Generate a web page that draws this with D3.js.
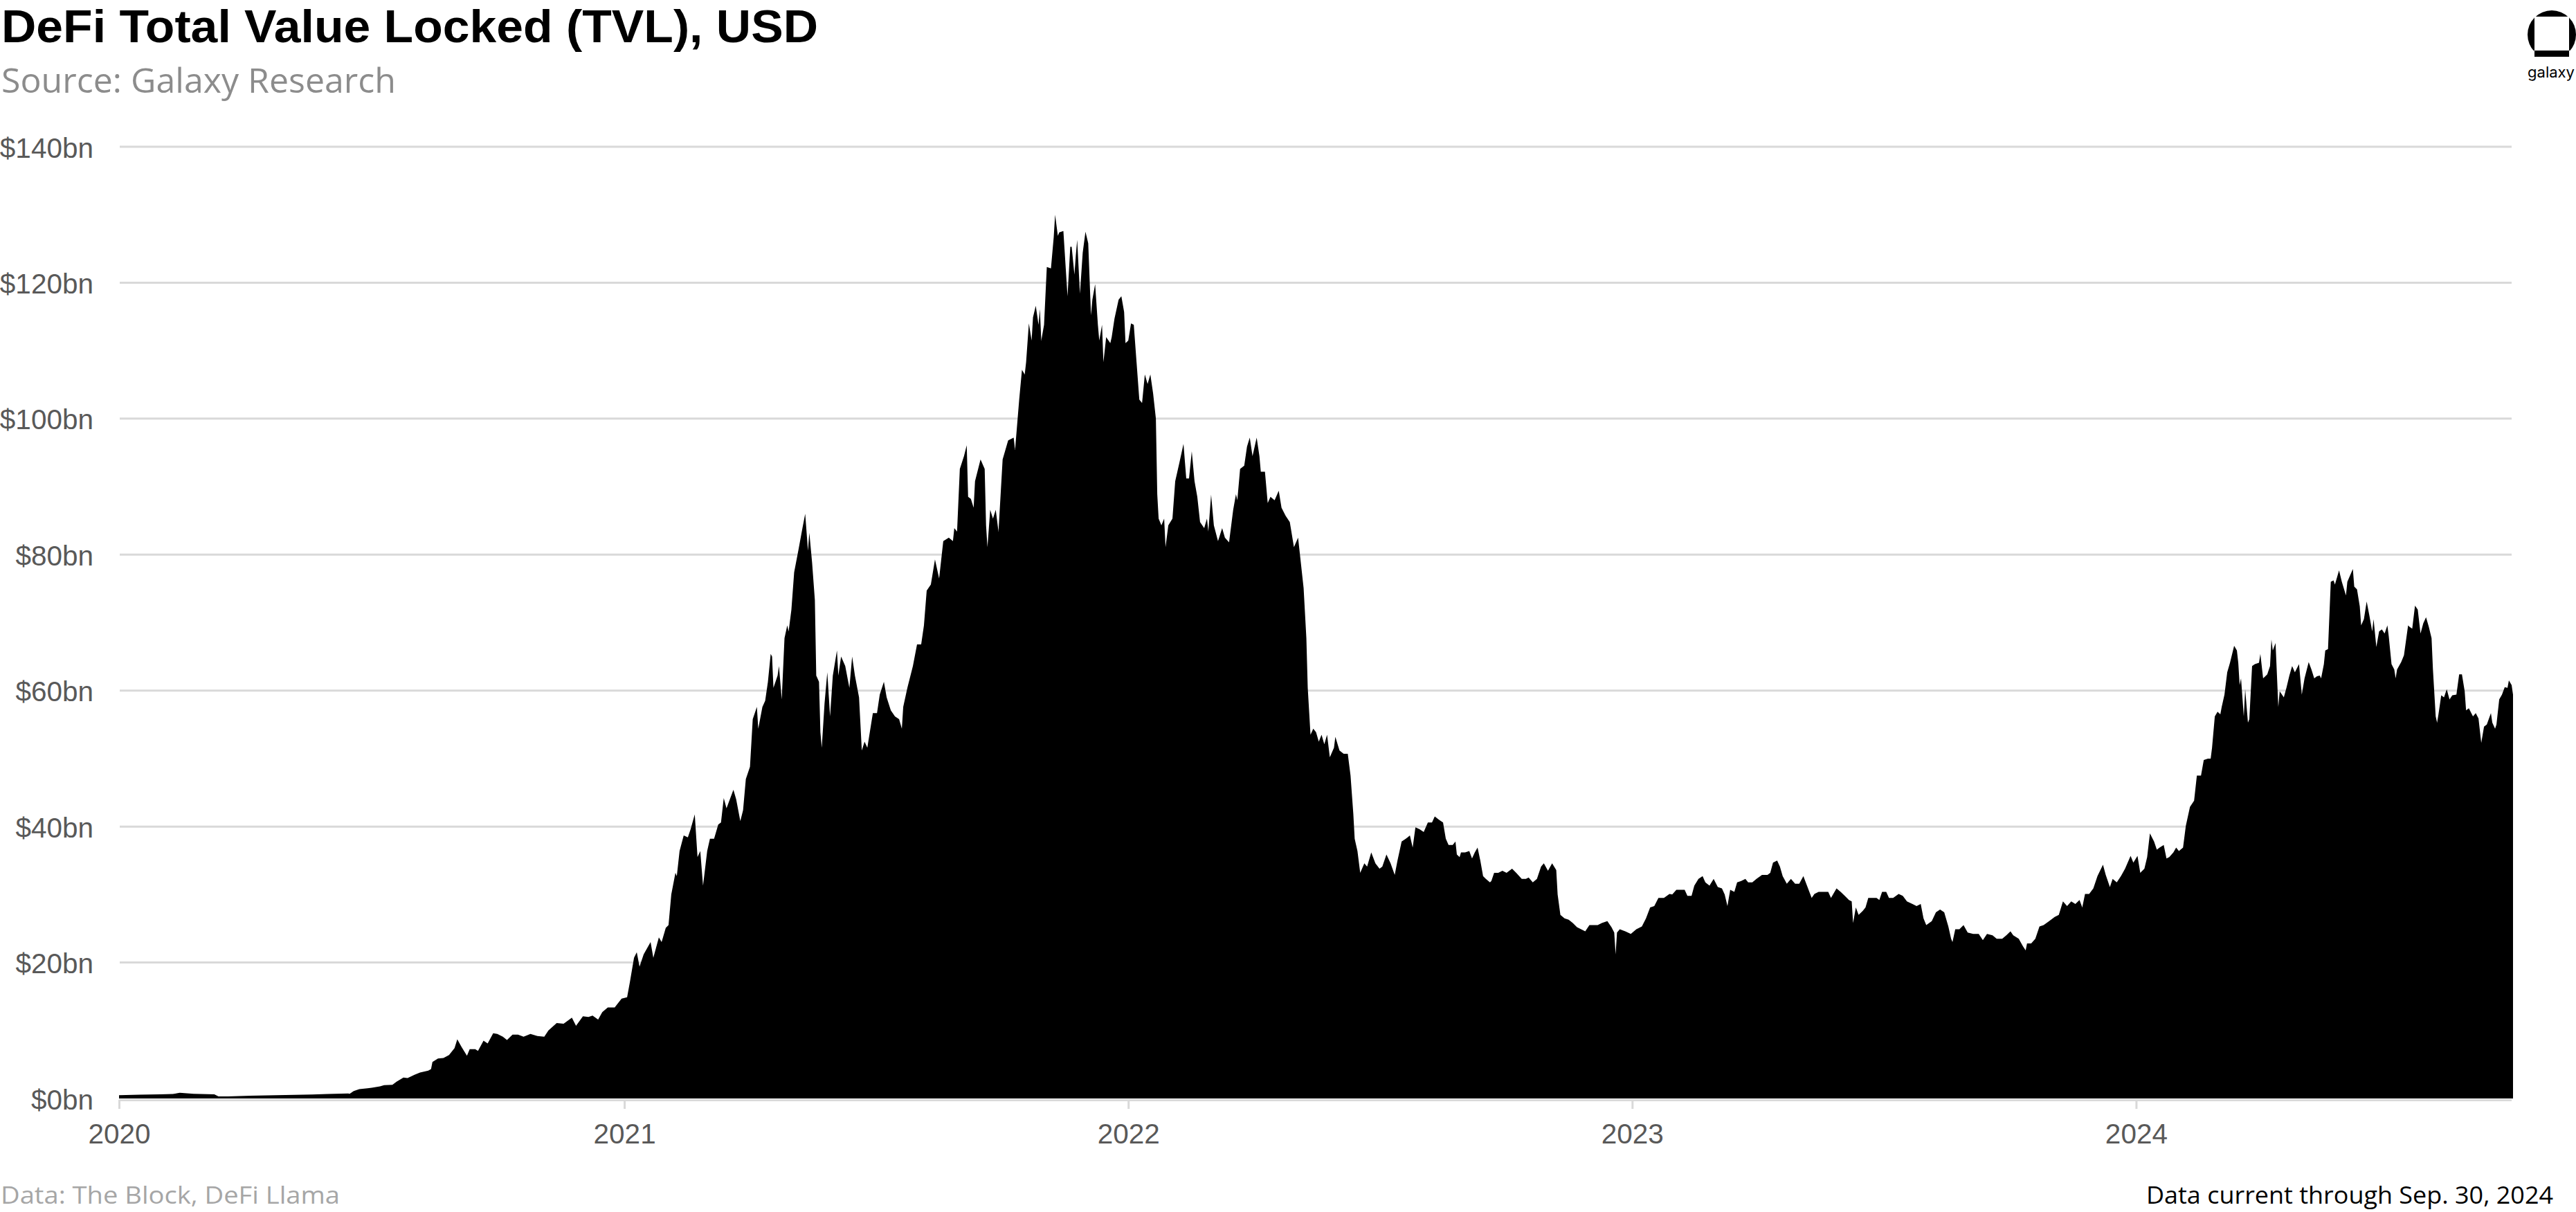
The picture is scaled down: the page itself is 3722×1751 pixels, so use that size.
<!DOCTYPE html>
<html>
<head>
<meta charset="utf-8">
<script src="https://cdn.jsdelivr.net/npm/d3@7"></script>
<style>
  html, body { margin: 0; padding: 0; background: #ffffff; }
  svg { display: block; }
</style>
</head>
<body>
<svg id="chart" width="3722" height="1751"></svg>
<script>
// ---------------- DATA ($bn) ----------------
const yTicks = [0, 20, 40, 60, 80, 100, 120, 140];
const xTickYears = ["2020", "2021", "2022", "2023", "2024"];
const periodStart = "2020-01-01";
const periodEnd = "2024-09-30";

const tvl2020 = [["01-01",0.48],["01-16",0.55],["01-31",0.6],["02-09",0.65],["02-14",0.85],["02-24",0.7],["03-10",0.6],["03-13",0.3],["03-20",0.3],["04-05",0.4],["04-24",0.48],["05-20",0.58],["05-31",0.65],["06-15",0.75],["06-16",0.7],["06-19",1.1],["06-23",1.37],["06-29",1.5],["07-02",1.57],["07-08",1.78],["07-11",1.95],["07-17",2.0],["07-20",2.46],["07-25",3.08],["07-28",3.0],["08-02",3.49],["08-06",3.83],["08-12",4.1],["08-14",4.34],["08-15",5.37],["08-19",5.88],["08-23",5.95],["08-27",6.4],["08-31",7.4],["09-02",8.7],["09-05",7.6],["09-09",6.3],["09-11",7.25],["09-15",7.25],["09-17",7.0],["09-21",8.5],["09-24",8.1],["09-28",9.6],["10-01",9.5],["10-05",9.1],["10-08",8.6],["10-12",9.4],["10-16",9.4],["10-20",9.1],["10-25",9.5],["10-30",9.2],["11-04",9.1],["11-07",10.0],["11-13",11.1],["11-18",11.0],["11-24",11.9],["11-27",10.7],["12-02",12.1],["12-06",12.0],["12-09",12.2],["12-13",11.6],["12-16",12.7],["12-20",13.4],["12-21",13.4],["12-25",13.4],["12-30",14.7]];

const tvl2021 = [["01-03",14.9],["01-05",17.1],["01-08",20.7],["01-10",21.5],["01-12",19.4],["01-15",21.2],["01-20",23.0],["01-22",20.7],["01-26",23.7],["01-28",23.0],["01-31",25.1],["02-02",25.5],["02-04",30.0],["02-07",33.2],["02-08",32.7],["02-10",36.4],["02-13",38.7],["02-16",38.4],["02-18",39.6],["02-21",41.8],["02-23",35.5],["02-25",36.4],["02-27",31.3],["03-02",36.4],["03-04",38.2],["03-07",38.2],["03-10",40.3],["03-12",40.6],["03-14",44.2],["03-16",42.7],["03-21",45.4],["03-23",44.0],["03-26",40.8],["03-28",42.4],["03-30",47.0],["04-02",48.8],["04-04",55.8],["04-07",57.6],["04-08",54.4],["04-11",57.6],["04-13",58.5],["04-15",61.3],["04-17",65.4],["04-18",65.0],["04-19",60.4],["04-22",62.2],["04-23",63.6],["04-25",58.7],["04-27",67.7],["04-29",69.6],["04-30",68.7],["05-02",71.9],["05-04",77.4],["05-07",80.6],["05-10",83.9],["05-12",86.0],["05-14",80.6],["05-15",83.2],["05-17",78.8],["05-19",73.3],["05-20",62.2],["05-22",61.3],["05-23",53.9],["05-24",51.6],["05-26",58.1],["05-28",62.7],["05-30",56.2],["06-01",62.2],["06-04",65.9],["06-05",62.2],["06-07",65.0],["06-10",63.6],["06-13",60.4],["06-15",65.0],["06-17",62.2],["06-20",59.0],["06-22",51.2],["06-24",52.5],["06-26",51.6],["06-30",56.7],["07-03",56.7],["07-05",59.4],["07-08",61.3],["07-10",59.0],["07-13",57.1],["07-16",56.2],["07-19",55.8],["07-21",54.4],["07-22",57.6],["07-25",60.4],["07-29",63.6],["08-01",66.8],["08-04",66.8],["08-06",69.6],["08-08",74.7],["08-11",75.6],["08-14",79.3],["08-17",76.5],["08-20",82.0],["08-24",82.5],["08-27",82.0],["08-28",83.9],["08-30",83.4],["09-01",92.6],["09-04",94.5],["09-06",96.1],["09-07",88.5],["09-09",88.2],["09-11",86.9],["09-12",90.8],["09-16",94.0],["09-19",92.6],["09-20",84.3],["09-21",81.1],["09-23",86.6],["09-25",85.3],["09-27",86.6],["09-29",83.4],["10-02",94.0],["10-06",96.8],["10-10",97.2],["10-11",95.4],["10-14",102.8],["10-16",107.2],["10-18",106.5],["10-19",108.3],["10-21",114.0],["10-23",111.5],["10-24",114.9],["10-26",116.6],["10-28",113.8],["10-29",116.1],["10-30",111.5],["11-01",113.8],["11-03",122.3],["11-06",122.1],["11-08",126.7],["11-09",130.0],["11-11",126.9],["11-12",127.4],["11-15",127.6],["11-17",121.2],["11-18",118.0],["11-20",125.3],["11-21",125.3],["11-23",121.2],["11-24",124.0],["11-25",126.3],["11-27",118.4],["11-29",124.4],["12-01",127.5],["12-03",125.8],["12-05",115.2],["12-06",117.5],["12-08",119.8],["12-10",113.8],["12-11",111.5],["12-13",113.8],["12-14",108.3],["12-16",112.0],["12-19",111.1],["12-20",112.0],["12-22",114.7],["12-25",117.5],["12-27",118.0],["12-29",115.7],["12-30",111.1]];

const tvl2022 = [["01-01",111.5],["01-03",114.0],["01-05",113.8],["01-07",108.3],["01-09",102.8],["01-11",102.3],["01-13",106.5],["01-15",105.1],["01-17",106.5],["01-19",103.7],["01-21",100.0],["01-22",88.9],["01-23",85.3],["01-25",84.3],["01-27",85.3],["01-28",81.1],["01-30",84.3],["02-02",85.3],["02-04",90.8],["02-07",93.5],["02-10",96.3],["02-12",91.2],["02-14",91.2],["02-16",95.2],["02-18",90.8],["02-20",88.5],["02-22",84.8],["02-25",83.9],["02-27",85.3],["02-28",83.4],["03-02",88.8],["03-04",84.3],["03-07",82.0],["03-10",83.9],["03-12",82.5],["03-15",81.8],["03-18",86.6],["03-20",88.9],["03-21",88.0],["03-23",92.6],["03-26",93.1],["03-28",95.9],["03-30",97.2],["04-01",94.5],["04-04",97.2],["04-06",94.5],["04-07",92.2],["04-10",92.2],["04-12",87.6],["04-14",88.5],["04-17",88.0],["04-20",89.4],["04-22",86.9],["04-25",85.7],["04-28",84.8],["05-01",81.1],["05-04",82.5],["05-06",78.8],["05-08",75.1],["05-10",67.7],["05-11",60.4],["05-13",53.5],["05-15",54.4],["05-17",53.9],["05-19",52.5],["05-21",53.5],["05-23",52.1],["05-25",53.5],["05-27",50.2],["05-30",51.6],["05-31",53.2],["06-03",51.2],["06-06",50.7],["06-09",50.7],["06-11",47.5],["06-13",41.9],["06-14",38.2],["06-16",36.4],["06-18",33.2],["06-21",34.6],["06-23",34.1],["06-26",36.2],["06-29",34.6],["07-02",33.8],["07-04",34.1],["07-07",35.9],["07-10",34.6],["07-13",32.9],["07-15",35.0],["07-18",37.8],["07-21",38.2],["07-24",38.7],["07-26",36.9],["07-28",39.9],["07-31",39.6],["08-03",39.2],["08-06",40.6],["08-09",40.6],["08-11",41.5],["08-14",41.0],["08-17",40.6],["08-19",38.2],["08-21",37.3],["08-24",37.3],["08-26",37.8],["08-27",35.9],["08-29",35.5],["08-30",36.2],["09-02",36.2],["09-05",36.4],["09-07",35.3],["09-09",36.2],["09-11",36.9],["09-13",35.0],["09-15",32.7],["09-17",32.3],["09-20",31.8],["09-21",32.0],["09-23",33.2],["09-26",33.2],["09-29",33.5],["10-02",33.2],["10-06",33.8],["10-09",33.2],["10-13",32.3],["10-16",32.3],["10-18",32.5],["10-21",31.8],["10-24",32.3],["10-27",34.1],["10-29",34.6],["11-01",33.5],["11-04",34.6],["11-07",33.6],["11-08",30.0],["11-10",27.0],["11-13",26.5],["11-16",26.3],["11-19",25.8],["11-22",25.2],["11-25",24.9],["11-28",24.6],["12-01",25.5],["12-04",25.5],["12-07",25.5],["12-10",25.8],["12-14",26.1],["12-17",25.2],["12-19",24.4],["12-20",21.2],["12-21",24.4],["12-23",24.9],["12-27",24.6],["12-31",24.2]];

const tvl2023 = [["01-04",24.9],["01-08",25.3],["01-11",26.5],["01-14",28.1],["01-17",28.3],["01-20",29.5],["01-24",29.5],["01-28",30.1],["01-30",30.0],["02-02",30.7],["02-05",30.7],["02-08",30.7],["02-10",29.8],["02-13",29.8],["02-15",31.3],["02-18",32.3],["02-21",32.7],["02-23",31.8],["02-26",31.3],["03-01",32.3],["03-04",31.1],["03-07",30.9],["03-09",30.0],["03-11",28.3],["03-13",30.7],["03-16",30.4],["03-18",31.8],["03-21",32.0],["03-24",32.3],["03-26",31.8],["03-29",31.8],["04-01",32.3],["04-05",32.9],["04-09",32.9],["04-11",33.2],["04-13",34.7],["04-16",35.0],["04-18",34.1],["04-20",32.7],["04-23",31.6],["04-26",32.3],["04-29",31.6],["05-02",31.6],["05-05",32.7],["05-08",31.1],["05-11",29.5],["05-13",30.1],["05-16",30.4],["05-19",30.4],["05-23",30.4],["05-25",29.5],["05-29",30.9],["06-01",30.4],["06-04",29.8],["06-07",29.2],["06-09",29.0],["06-10",25.8],["06-12",28.1],["06-14",27.0],["06-17",27.6],["06-19",28.1],["06-21",29.5],["06-24",29.5],["06-27",29.5],["06-29",29.2],["07-01",30.4],["07-04",30.4],["07-06",29.5],["07-09",29.5],["07-13",30.1],["07-16",29.8],["07-19",29.0],["07-23",28.6],["07-26",28.3],["07-29",28.6],["07-31",26.5],["08-02",25.5],["08-06",26.1],["08-09",27.4],["08-12",27.8],["08-15",27.4],["08-18",25.3],["08-20",23.5],["08-21",23.0],["08-23",24.9],["08-26",24.9],["08-29",25.5],["09-01",24.4],["09-05",24.2],["09-09",24.2],["09-12",23.3],["09-15",24.2],["09-19",24.0],["09-22",23.5],["09-26",23.5],["09-29",24.0],["10-02",24.6],["10-04",24.0],["10-08",23.5],["10-11",22.4],["10-13",21.8],["10-14",22.8],["10-17",22.8],["10-20",23.5],["10-23",25.3],["10-26",25.5],["10-30",26.1],["11-03",26.7],["11-06",27.0],["11-09",29.0],["11-12",28.3],["11-15",29.0],["11-18",28.6],["11-21",29.2],["11-23",28.1],["11-25",30.1],["11-28",30.1],["12-01",30.9],["12-04",32.7],["12-08",34.4],["12-10",32.9],["12-13",31.1],["12-15",32.3],["12-18",31.8],["12-21",32.7],["12-24",33.8],["12-28",35.7],["12-30",34.7]];

const tvl2024 = [["01-02",35.7],["01-04",33.2],["01-07",33.8],["01-09",35.5],["01-11",39.0],["01-14",37.8],["01-16",36.6],["01-18",36.9],["01-21",37.3],["01-23",35.3],["01-25",35.5],["01-28",36.2],["01-30",36.9],["02-01",36.4],["02-04",36.9],["02-06",40.1],["02-09",42.9],["02-12",43.8],["02-14",47.5],["02-17",47.5],["02-19",49.8],["02-22",50.0],["02-24",50.0],["02-25",51.6],["02-27",56.2],["02-29",56.9],["03-02",56.5],["03-03",57.6],["03-05",59.4],["03-07",62.7],["03-09",64.1],["03-12",66.6],["03-14",65.9],["03-15",64.1],["03-16",60.8],["03-17",61.8],["03-19",56.2],["03-20",60.2],["03-22",55.3],["03-23",55.8],["03-25",63.6],["03-27",63.9],["03-30",64.1],["03-31",65.4],["04-02",61.8],["04-05",62.4],["04-07",63.6],["04-08",67.5],["04-09",65.9],["04-11",67.0],["04-13",57.6],["04-14",59.9],["04-17",59.0],["04-19",60.5],["04-21",62.2],["04-23",63.6],["04-25",62.7],["04-28",63.9],["04-30",59.4],["05-02",61.8],["05-05",64.2],["05-07",63.1],["05-09",61.8],["05-11",62.1],["05-13",62.2],["05-14",61.8],["05-16",63.9],["05-17",65.9],["05-19",66.1],["05-21",76.0],["05-23",76.2],["05-24",75.6],["05-27",77.7],["05-29",76.0],["06-01",74.0],["06-02",76.0],["06-06",77.9],["06-07",75.3],["06-09",74.9],["06-11",72.4],["06-12",69.6],["06-14",70.5],["06-16",73.1],["06-18",71.0],["06-20",68.7],["06-21",70.5],["06-23",66.4],["06-25",68.7],["06-27",69.0],["06-29",68.4],["07-01",69.6],["07-02",68.0],["07-04",63.9],["07-06",63.1],["07-07",61.8],["07-08",63.1],["07-11",64.2],["07-13",65.2],["07-16",69.6],["07-17",69.4],["07-19",69.1],["07-21",72.5],["07-23",71.9],["07-25",68.4],["07-27",69.9],["07-29",70.8],["07-31",69.4],["08-02",67.7],["08-03",63.1],["08-05",56.2],["08-06",55.3],["08-07",56.5],["08-09",59.3],["08-11",59.0],["08-13",60.2],["08-15",58.7],["08-17",59.3],["08-20",59.4],["08-22",62.4],["08-24",62.4],["08-26",59.9],["08-27",57.1],["08-29",57.4],["09-01",56.2],["09-03",56.7],["09-05",55.9],["09-07",52.3],["09-09",54.7],["09-11",55.0],["09-14",56.7],["09-15",55.3],["09-17",54.4],["09-18",55.0],["09-20",58.7],["09-22",59.4],["09-24",60.5],["09-26",60.4],["09-27",61.5],["09-29",60.8],["09-30",59.4]];

// ---------------- BUILD ----------------
const parse = d3.utcParse("%Y-%m-%d");
const byYear = [["2020", tvl2020], ["2021", tvl2021], ["2022", tvl2022], ["2023", tvl2023], ["2024", tvl2024]];
const series = [];
byYear.forEach(([yr, arr]) => arr.forEach(([md, v]) => series.push({ date: parse(yr + "-" + md), value: v })));

const svg = d3.select("#chart");
svg.append("rect").attr("width", 3722).attr("height", 1751).attr("fill", "#ffffff");

const x = d3.scaleUtc().domain([parse(periodStart), parse(periodEnd)]).range([172, 3631]);
const y = d3.scaleLinear().domain([0, 140]).range([1587, 212]);

// gridlines
svg.append("g").selectAll("line").data(yTicks.filter(d => d > 0)).join("line")
  .attr("x1", 173).attr("x2", 3629)
  .attr("y1", d => y(d)).attr("y2", d => y(d))
  .attr("stroke", "#d9d9d9").attr("stroke-width", 3);

// area
const area = d3.area().x(d => x(d.date)).y0(y(0)).y1(d => y(d.value)).curve(d3.curveLinear);
svg.append("path").datum(series).attr("d", area).attr("fill", "#000000");

// baseline axis line
svg.append("line").attr("x1", 172).attr("x2", 3629).attr("y1", 1589.5).attr("y2", 1589.5)
  .attr("stroke", "#d9d9d9").attr("stroke-width", 3);

// x axis
const xAxis = d3.axisBottom(x)
  .tickValues(xTickYears.map(s => parse(s + "-01-01")))
  .tickFormat(d3.utcFormat("%Y"))
  .tickSize(13).tickSizeOuter(0).tickPadding(21);
const gx = svg.append("g").attr("transform", "translate(0,1589)").call(xAxis);
gx.select(".domain").remove();
gx.selectAll(".tick line").attr("stroke", "#d9d9d9").attr("stroke-width", 3);
gx.selectAll(".tick text").attr("fill", "#595959")
  .style("font-family", "'Liberation Sans', Arial, sans-serif").style("font-size", "40.5px");

// y axis labels
const yAxis = d3.axisLeft(y).tickValues(yTicks).tickFormat(d => "$" + d + "bn").tickSize(0).tickPadding(8);
const gy = svg.append("g").attr("transform", "translate(143,0)").call(yAxis);
gy.select(".domain").remove();
gy.selectAll(".tick text").attr("fill", "#595959").attr("dy", "0.37em")
  .style("font-family", "'Liberation Sans', Arial, sans-serif").style("font-size", "40.5px");

// titles
svg.append("text").attr("x", 2).attr("y", 61)
  .attr("textLength", 1180).attr("lengthAdjust", "spacingAndGlyphs")
  .style("font-family", "'Liberation Sans', Arial, sans-serif").style("font-weight", "700").style("font-size", "66px")
  .attr("fill", "#000000").text("DeFi Total Value Locked (TVL), USD");
svg.append("text").attr("x", 2).attr("y", 134)
  .attr("textLength", 570).attr("lengthAdjust", "spacingAndGlyphs")
  .style("font-family", "'Open Sans', sans-serif").style("font-size", "50px")
  .attr("fill", "#8c8c8c").text("Source: Galaxy Research");

// footers
svg.append("text").attr("x", 1).attr("y", 1739)
  .attr("textLength", 490).attr("lengthAdjust", "spacingAndGlyphs")
  .style("font-family", "'Open Sans', sans-serif").style("font-size", "35px")
  .attr("fill", "#a6a6a6").text("Data: The Block, DeFi Llama");
svg.append("text").attr("x", 3689).attr("y", 1739).attr("text-anchor", "end")
  .attr("textLength", 588).attr("lengthAdjust", "spacingAndGlyphs")
  .style("font-family", "'Open Sans', sans-serif").style("font-size", "35px")
  .attr("fill", "#000000").text("Data current through Sep. 30, 2024");

// logo
const logo = svg.append("g");
const defs = svg.append("defs");
defs.append("clipPath").attr("id", "logoClip").append("rect")
  .attr("x", 3640).attr("y", 0).attr("width", 82).attr("height", 73);
logo.append("circle").attr("cx", 3687).attr("cy", 50).attr("r", 35)
  .attr("fill", "#000000").attr("clip-path", "url(#logoClip)");
logo.append("rect").attr("x", 3662).attr("y", 24).attr("width", 50).attr("height", 49)
  .attr("fill", "#ffffff");
logo.append("rect").attr("x", 3662).attr("y", 73).attr("width", 50).attr("height", 9)
  .attr("fill", "#000000");
logo.append("text").attr("x", 3686).attr("y", 112).attr("text-anchor", "middle")
  .attr("textLength", 68).attr("lengthAdjust", "spacingAndGlyphs")
  .style("font-family", "Inter, 'Noto Sans', sans-serif").style("font-size", "21px")
  .attr("fill", "#000000").text("galaxy");
</script>
</body>
</html>
